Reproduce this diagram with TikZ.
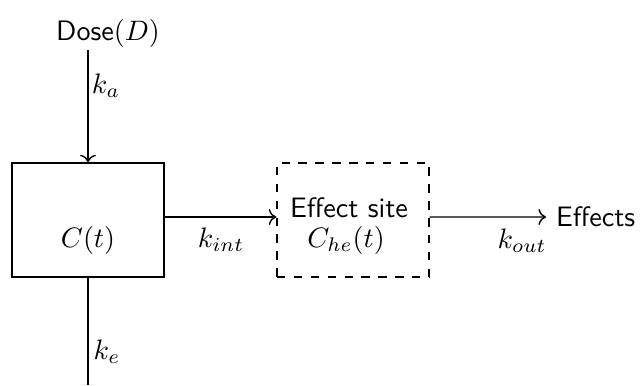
\documentclass[tikz,border=0pt]{standalone}
\usetikzlibrary{arrows.meta}
\begin{document}
\begin{tikzpicture}[x=0.0125cm,y=-0.0125cm,
  line width=0.5pt,
  lbl/.style={font=\sffamily},
  boxsolid/.style={draw,minimum width=152*0.0125cm,minimum height=114*0.0125cm,inner sep=0pt},
  boxdash/.style={draw,dashed,minimum width=152*0.0125cm,minimum height=114*0.0125cm,inner sep=0pt},
  conn/.style={->},
  plain/.style={}]
\useasboundingbox (0,0) rectangle (641,385);
\node[lbl] (dose) at (108,33) {Dose$(D)$};
\node[boxsolid] (box) at (88,220) {};
\node (ct) at (88,240) {$C(t)$};
\node[boxdash] (site) at (353,220) {};
\node[lbl] (sitelbl) at (349,208) {Effect site};
\node (che) at (346,240) {$C_{he}(t)$};
\node[lbl,anchor=west] (eff) at (546,217) {Effects};
\coordinate (a0) at (88,50);
\coordinate (bend) at (88,385);
\draw[conn] (a0) -- (box.north);
\node (ka) at (106,86) {$k_a$};
\draw[conn] ([yshift=0.0375cm]box.east) -- ([yshift=0.0375cm]site.west);
\node (kint) at (221,240) {$k_{int}$};
\draw[conn] ([yshift=0.0375cm]site.east) -- (eff.west);
\node (kout) at (522,241) {$k_{out}$};
\draw (box.south) -- (bend);
\node (ke) at (107,352) {$k_e$};
\end{tikzpicture}
\end{document}
